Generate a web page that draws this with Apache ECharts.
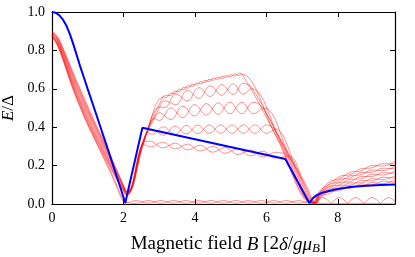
<!DOCTYPE html>
<html><head><meta charset="utf-8">
<script src="https://cdn.jsdelivr.net/npm/echarts@6/dist/echarts.min.js"></script>
<style>html,body{margin:0;padding:0;background:#fff}#c{width:415px;height:257px}</style>
</head><body><div id="c"></div>
<script>
const xTicks = [0, 2, 4, 6, 8];
const yTicks = [0.0, 0.2, 0.4, 0.6, 0.8, 1.0];

const blueLine = [[0,1.0],[0.1,0.996],[0.2,0.984],[0.3,0.962],[0.4,0.93],[0.5,0.885],[0.6,0.83],[0.7,0.77],[0.8,0.71],[0.9,0.655],[1.0,0.598],[1.2,0.488],[1.4,0.376],[1.6,0.265],[1.8,0.15],[1.95,0.065],[2.05,0.005],[2.53,0.397],[6.53,0.234],[7.2,0.005],[7.3,0.03],[7.4,0.045],[7.55,0.058],[7.75,0.068],[8.0,0.078],[8.35,0.088],[8.8,0.095],[9.2,0.099],[9.6,0.102]];

const r1a = [[0,.876],[.15,.836],[.3,.768],[.45,.688],[.6,.61],[.8,.518],[1,.432],[1.2,.353],[1.4,.28],[1.6,.207],[1.8,.136],[1.95,.087],[2.1,.045],[2.55,.318],[2.75,.327],[3.1,.292],[3.45,.317],[3.8,.282],[4.15,.306],[4.5,.27],[4.85,.294],[5.2,.258],[5.55,.281],[5.9,.245],[6.25,.269],[6.6,.25],[7.0,.128],[7.4,.005],[7.5,.041],[7.75,.053],[8.05,.082],[8.35,.081],[8.65,.104],[8.95,.1],[9.25,.118],[9.6,.112]];
const r1b = [[0,.873],[.15,.832],[.3,.762],[.45,.681],[.6,.602],[.8,.509],[1,.423],[1.2,.345],[1.4,.273],[1.6,.2],[1.8,.13],[1.95,.083],[2.1,.043],[2.58,.312],[2.75,.297],[3.1,.322],[3.45,.287],[3.8,.312],[4.15,.276],[4.5,.3],[4.85,.264],[5.2,.288],[5.55,.251],[5.9,.275],[6.25,.239],[6.63,.25],[7.03,.128],[7.43,.005],[7.5,.029],[7.75,.065],[8.05,.07],[8.35,.093],[8.65,.092],[8.95,.112],[9.25,.106],[9.6,.124]];
const r2a = [[0,.882],[.15,.845],[.3,.779],[.45,.702],[.6,.626],[.8,.535],[1,.45],[1.2,.37],[1.4,.295],[1.6,.221],[1.8,.148],[1.95,.095],[2.1,.051],[2.55,.322],[2.66,.37],[2.8,.387],[3.12,.358],[3.44,.406],[3.76,.365],[4.08,.411],[4.4,.368],[4.72,.412],[5.04,.368],[5.36,.412],[5.68,.368],[6.0,.412],[6.22,.39],[6.8,.196],[7.37,.005],[7.5,.048],[7.75,.064],[8.05,.096],[8.35,.098],[8.65,.122],[8.95,.12],[9.25,.139],[9.6,.134]];
const r2b = [[0,.879],[.15,.84],[.3,.773],[.45,.695],[.6,.618],[.8,.527],[1,.441],[1.2,.362],[1.4,.288],[1.6,.214],[1.8,.142],[1.95,.091],[2.1,.049],[2.57,.32],[2.68,.372],[2.8,.363],[3.12,.402],[3.44,.362],[3.76,.409],[4.08,.367],[4.4,.412],[4.72,.368],[5.04,.412],[5.36,.368],[5.68,.412],[6.0,.368],[6.25,.39],[6.83,.196],[7.4,.005],[7.5,.036],[7.75,.076],[8.05,.084],[8.35,.11],[8.65,.11],[8.95,.132],[9.25,.127],[9.6,.146]];
const r3a = [[0,.888],[.15,.855],[.3,.792],[.45,.72],[.6,.646],[.8,.557],[1,.472],[1.2,.392],[1.4,.316],[1.6,.24],[1.8,.163],[1.95,.106],[2.1,.057],[2.55,.325],[2.85,.44],[3.0,.475],[3.33,.44],[3.66,.51],[3.99,.458],[4.32,.523],[4.65,.467],[4.98,.53],[5.31,.47],[5.64,.53],[5.9,.5],[6.62,.253],[7.34,.005],[7.5,.056],[7.75,.077],[8.05,.112],[8.35,.116],[8.65,.143],[8.95,.143],[9.25,.163],[9.6,.159]];
const r3b = [[0,.885],[.15,.85],[.3,.785],[.45,.71],[.6,.635],[.8,.545],[1,.46],[1.2,.38],[1.4,.305],[1.6,.23],[1.8,.155],[1.95,.1],[2.1,.055],[2.57,.323],[2.87,.445],[3.0,.435],[3.33,.5],[3.66,.45],[3.99,.518],[4.32,.463],[4.65,.527],[4.98,.47],[5.31,.53],[5.64,.47],[5.93,.5],[6.65,.253],[7.37,.005],[7.5,.044],[7.75,.089],[8.05,.1],[8.35,.128],[8.65,.131],[8.95,.155],[9.25,.151],[9.6,.171]];
const r4a = [[0,.894],[.15,.864],[.3,.804],[.45,.735],[.6,.664],[.8,.576],[1,.491],[1.2,.41],[1.4,.333],[1.6,.254],[1.8,.174],[1.95,.113],[2.1,.061],[2.55,.328],[3.0,.5],[3.15,.538],[3.47,.517],[3.79,.593],[4.11,.55],[4.43,.616],[4.75,.566],[5.07,.626],[5.35,.572],[5.58,.6],[6.45,.3],[7.31,.005],[7.5,.063],[7.75,.089],[8.05,.128],[8.35,.135],[8.65,.164],[8.95,.165],[9.25,.186],[9.6,.184]];
const r4b = [[0,.891],[.15,.859],[.3,.798],[.45,.727],[.6,.655],[.8,.567],[1,.482],[1.2,.401],[1.4,.325],[1.6,.247],[1.8,.168],[1.95,.109],[2.1,.059],[2.57,.326],[3.02,.505],[3.15,.502],[3.47,.573],[3.79,.537],[4.11,.606],[4.43,.56],[4.75,.622],[5.07,.57],[5.35,.628],[5.61,.6],[6.48,.3],[7.34,.005],[7.5,.051],[7.75,.101],[8.05,.116],[8.35,.147],[8.65,.152],[8.95,.177],[9.25,.174],[9.6,.196]];
const r5a = [[0,.9],[.15,.873],[.3,.816],[.45,.75],[.6,.68],[.8,.594],[1,.51],[1.2,.427],[1.4,.348],[1.6,.267],[1.8,.183],[1.95,.12],[2.1,.065],[2.55,.33],[3.1,.555],[3.2,.566],[3.32,.565],[3.44,.588],[3.56,.586],[3.68,.607],[3.8,.604],[3.92,.624],[4.04,.619],[4.16,.638],[4.28,.632],[4.4,.65],[4.52,.644],[4.64,.661],[4.76,.654],[4.88,.67],[5.0,.662],[5.12,.678],[5.24,.669],[5.3,.677],[6.3,.34],[7.28,.005],[7.5,.071],[7.75,.102],[8.05,.144],[8.35,.153],[8.65,.184],[8.95,.188],[9.25,.21],[9.6,.209]];
const r5b = [[0,.897],[.15,.868],[.3,.81],[.45,.742],[.6,.672],[.8,.585],[1,.5],[1.2,.418],[1.4,.34],[1.6,.26],[1.8,.178],[1.95,.117],[2.1,.063],[2.57,.328],[3.12,.558],[3.2,.554],[3.32,.577],[3.44,.576],[3.56,.598],[3.68,.595],[3.8,.616],[3.92,.612],[4.04,.631],[4.16,.626],[4.28,.644],[4.4,.638],[4.52,.656],[4.64,.649],[4.76,.666],[4.88,.658],[5.0,.674],[5.12,.666],[5.24,.681],[5.32,.676],[6.32,.34],[7.31,.005],[7.5,.059],[7.75,.114],[8.05,.132],[8.35,.165],[8.65,.172],[8.95,.2],[9.25,.198],[9.6,.221]];
const n0a = [[0,.87],[.15,.826],[.3,.752],[.45,.67],[.6,.59],[.8,.497],[1,.411],[1.2,.333],[1.4,.256],[1.6,.178],[1.8,.093],[1.95,.028],[2.05,.006],[2.35,.018],[2.7,.004],[3.05,.018],[3.4,.004],[3.75,.018],[4.1,.004],[4.45,.018],[4.8,.004],[5.15,.018],[5.5,.004],[5.85,.018],[6.2,.004],[6.55,.018],[6.9,.004],[7.25,.015],[7.38,.003]];
const n0b = [[0,.873],[.15,.83],[.3,.758],[.45,.677],[.6,.597],[.8,.504],[1,.418],[1.2,.34],[1.4,.263],[1.6,.186],[1.8,.104],[1.95,.038],[2.05,.012],[2.35,.003],[2.7,.018],[3.05,.003],[3.4,.018],[3.75,.003],[4.1,.018],[4.45,.003],[4.8,.018],[5.15,.003],[5.5,.018],[5.85,.003],[6.2,.018],[6.55,.003],[6.9,.018],[7.25,.003],[9.6,.003]];
const arches = [[7.35,.002],[7.47,.025],[7.58,.035],[7.69,.025],[7.81,.002],[7.93,.025],[8.04,.035],[8.15,.025],[8.27,.002],[8.39,.025],[8.5,.035],[8.61,.025],[8.73,.002],[8.85,.025],[8.96,.035],[9.07,.025],[9.19,.002],[9.31,.025],[9.42,.035],[9.53,.025],[9.65,.002]];

const redLines = [r1a, r1b, r2a, r2b, r3a, r3b, r4a, r4b, r5a, r5b, n0a, n0b];

const FONT = 'Liberation Serif';
const RED = 'rgba(255,0,0,0.55)';
const chart = echarts.init(document.getElementById('c'), null, {renderer: 'canvas'});

function axisCommon(isX, pos, showLabel) {
  return {
    type: 'value',
    position: pos,
    min: 0,
    max: isX ? 9.6 : 1.0,
    interval: isX ? 2 : 0.2,
    axisLine: {show: true, onZero: false, lineStyle: {color: '#000', width: 1.2}},
    axisTick: {show: true, inside: true, length: 5, lineStyle: {color: '#000', width: 1}},
    splitLine: {show: false},
    axisLabel: {
      show: showLabel,
      color: '#000',
      fontFamily: FONT,
      fontSize: 14,
      margin: 7,
      formatter: isX
        ? (v) => { const i = xTicks.indexOf(Math.round(v)); return i >= 0 ? String(xTicks[i]) : ''; }
        : (v) => { const t = yTicks.find(t => Math.abs(t - v) < 1e-6); return t === undefined ? '' : t.toFixed(1); }
    }
  };
}

const xBottom = Object.assign(axisCommon(true, 'bottom', true), {
  name: '{n|Magnetic field }{i|B}{n| [2}{i|δ}{n|/}{i|gμ}{s|B}{n|]}',
  nameLocation: 'middle',
  nameGap: 30,
  nameTextStyle: {
    padding: [0, 0, 0, 10],
    rich: {
      n: {fontFamily: FONT, fontSize: 19, color: '#000'},
      i: {fontFamily: FONT, fontSize: 19, color: '#000', fontStyle: 'italic'},
      s: {fontFamily: FONT, fontSize: 13, color: '#000', fontStyle: 'italic', padding: [8, 0, 0, 0]}
    }
  }
});
const xTop = axisCommon(true, 'top', false);
const yLeft = Object.assign(axisCommon(false, 'left', true), {
  name: '{i|E}{n|/Δ}',
  nameLocation: 'middle',
  nameGap: 33,
  nameRotate: 90,
  nameTextStyle: {
    rich: {
      n: {fontFamily: FONT, fontSize: 17, color: '#000'},
      i: {fontFamily: FONT, fontSize: 17, color: '#000', fontStyle: 'italic'}
    }
  }
});
const yRight = axisCommon(false, 'right', false);

const series = redLines.map(d => ({
  type: 'line', data: d, smooth: 0.4, symbol: 'none', silent: true,
  lineStyle: {color: RED, width: 0.8}, z: 2
}));
series.push({type: 'line', data: arches, smooth: false, symbol: 'none', silent: true,
  lineStyle: {color: RED, width: 0.8}, z: 2});
series.push({type: 'line', data: blueLine, smooth: false, symbol: 'none', silent: true,
  lineStyle: {color: '#0000ff', width: 2}, z: 3});

chart.setOption({
  animation: false,
  backgroundColor: '#fff',
  grid: {left: 52, right: 20, top: 12, bottom: 53, containLabel: false, outerBoundsMode: 'none'},
  xAxis: [xBottom, xTop],
  yAxis: [yLeft, yRight],
  series: series.map(s => Object.assign(s, {xAxisIndex: 0, yAxisIndex: 0}))
});
</script>
</body></html>
